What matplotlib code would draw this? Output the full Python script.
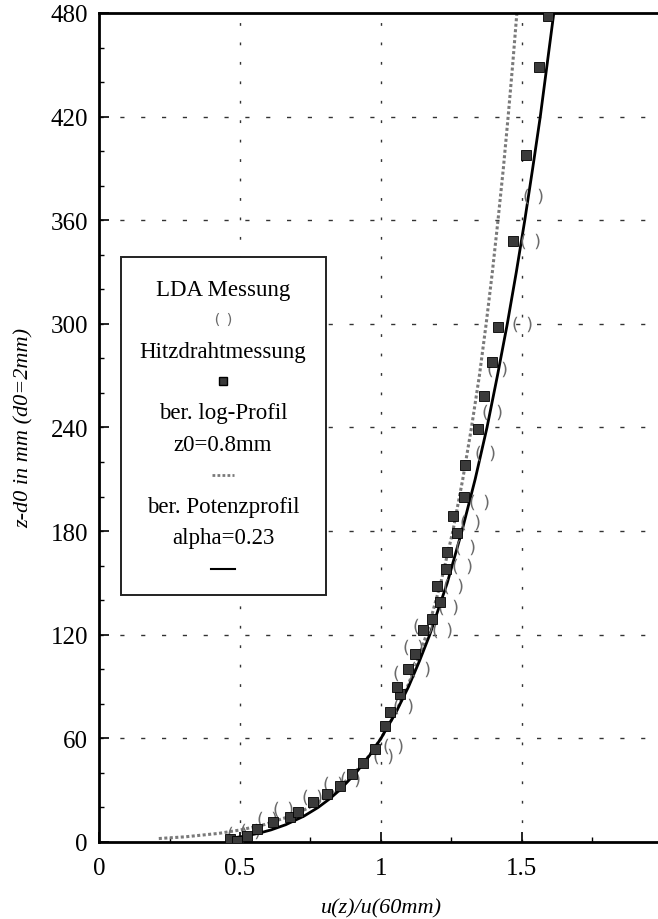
import matplotlib
matplotlib.use("Agg")
import matplotlib.pyplot as plt
from matplotlib.lines import Line2D
from matplotlib.patches import Rectangle

# berechnete Profile
prof_z = [2, 3, 5, 7, 10, 15, 20, 25, 30, 40, 50, 60, 75, 90, 105, 120, 150,
          180, 210, 240, 270, 300, 330, 360, 390, 420, 450, 480]
log_u = [0.212, 0.306, 0.425, 0.502, 0.585, 0.679, 0.746, 0.797, 0.840, 0.906,
         0.958, 1.0, 1.052, 1.094, 1.130, 1.161, 1.212, 1.255, 1.290, 1.321,
         1.349, 1.373, 1.395, 1.415, 1.434, 1.451, 1.467, 1.482]
pot_u = [0.457, 0.502, 0.565, 0.610, 0.662, 0.727, 0.777, 0.818, 0.853, 0.911,
         0.959, 1.0, 1.053, 1.098, 1.137, 1.173, 1.235, 1.287, 1.334, 1.376,
         1.413, 1.448, 1.480, 1.510, 1.538, 1.565, 1.589, 1.613]

# Hitzdrahtmessung
hw_u = [0.465, 0.49, 0.525, 0.56, 0.617, 0.677, 0.706, 0.759, 0.809, 0.855,
        0.897, 0.936, 0.979, 1.014, 1.032, 1.067, 1.057, 1.096, 1.121, 1.149,
        1.181, 1.209, 1.199, 1.230, 1.234, 1.269, 1.255, 1.294, 1.298, 1.344,
        1.365, 1.394, 1.415, 1.468, 1.514, 1.560, 1.592]
hw_z = [1.7, 0.6, 3.5, 7.5, 11.6, 14.5, 17.4, 23, 27.7, 32.4,
        39.4, 46, 54, 67, 75, 85.6, 90, 100, 109, 123,
        129, 139, 148, 158, 168, 179, 189, 200, 218, 239,
        258, 278, 298, 348, 398, 449, 478]

# LDA Messung
lda_u = [0.489, 0.535, 0.596, 0.652, 0.755, 0.830, 0.890, 1.007, 1.043, 1.078,
         1.078, 1.138, 1.113, 1.149, 1.216, 1.238, 1.255, 1.287, 1.298, 1.316,
         1.348, 1.37, 1.394, 1.411, 1.50, 1.528, 1.539]
lda_z = [4.6, 6.4, 13.3, 19, 26, 33.5, 36.4, 49.7, 55.5, 78.5,
         98, 100, 113, 125, 123, 136, 148, 160, 171, 185,
         197, 225, 249, 274, 300, 348, 374]

plt.rcParams['font.family'] = ['Liberation Serif', 'DejaVu Serif']

fig = plt.figure(figsize=(6.58, 9.2), dpi=100)
ax = fig.add_axes([0.1505, 0.0837, 0.857, 0.9011])

ax.plot(log_u, prof_z, color="#7a7a7a", lw=2.2, ls=(0, (1, 0.8)), zorder=2)
ax.plot(pot_u, prof_z, color="black", lw=2.0, zorder=3)
ax.plot(lda_u, lda_z, ls="none", marker=r"$(\;\,)$", ms=13, color="#6a6a6a",
        mew=0, zorder=4)
ax.plot(hw_u, hw_z, ls="none", marker="s", ms=6.5, mfc="#3a3a3a", mec="black",
        mew=0.6, zorder=5)

ax.set_xlim(0, 2)
ax.set_ylim(0, 480)
ax.set_xticks([0, 0.5, 1, 1.5, 2])
ax.set_xticklabels(["0", "0.5", "1", "1.5", "2"])
ax.set_yticks(range(0, 481, 60))
ax.set_xticks([0.25, 0.75, 1.25, 1.75], minor=True)
ax.set_yticks([y for y in range(0, 481, 20) if y % 60], minor=True)
ax.tick_params(which="major", direction="in", length=7, width=1.2,
               labelsize=18)
ax.tick_params(which="minor", direction="in", length=3.5, width=1)
ax.tick_params(axis="x", pad=11)
ax.tick_params(axis="y", pad=8)

for s in ["left", "bottom", "top"]:
    ax.spines[s].set_linewidth(2)
ax.spines["right"].set_visible(False)

for x in [0.5, 1, 1.5]:
    ax.axvline(x, color="#333333", lw=1, ls=(0, (2, 12)), zorder=1)
for y in range(60, 480, 60):
    ax.axhline(y, color="#333333", lw=1, ls=(0, (3, 12)), zorder=1)

ax.set_xlabel("u(z)/u(60mm)", fontsize=16, style="italic", labelpad=14)
ax.set_ylabel("z-d0 in mm (d0=2mm)", fontsize=16, style="italic", labelpad=12)

# Legende als Kasten mit Text und Symbolen untereinander
tr = ax.transAxes
ax.add_patch(Rectangle((0.039, 0.298), 0.3635, 0.4077, transform=tr,
                       facecolor="white", edgecolor="#222222", lw=1.4,
                       zorder=6))
cx = 0.22
items = [("LDA Messung", 0.667), ("Hitzdrahtmessung", 0.592),
         ("ber. log-Profil", 0.5175), ("z0=0.8mm", 0.479),
         ("ber. Potenzprofil", 0.405), ("alpha=0.23", 0.367)]
for txt, yy in items:
    ax.text(cx, yy, txt, transform=tr, ha="center", va="center",
            fontsize=16.5, zorder=7)
ax.add_line(Line2D([cx], [0.631], transform=tr, ls="none",
                   marker=r"$(\;\,)$", ms=11, color="#6a6a6a", mew=0,
                   zorder=7))
ax.add_line(Line2D([cx], [0.556], transform=tr, ls="none", marker="s",
                   ms=5.5, mfc="#3a3a3a", mec="black", zorder=7))
ax.add_line(Line2D([cx - 0.02, cx + 0.02], [0.443, 0.443], transform=tr,
                   color="#7a7a7a", lw=2, ls=(0, (1, 0.8)), zorder=7))
ax.add_line(Line2D([cx - 0.022, cx + 0.022], [0.329, 0.329], transform=tr,
                   color="black", lw=1.5, zorder=7))

fig.savefig("out.png", dpi=100)
